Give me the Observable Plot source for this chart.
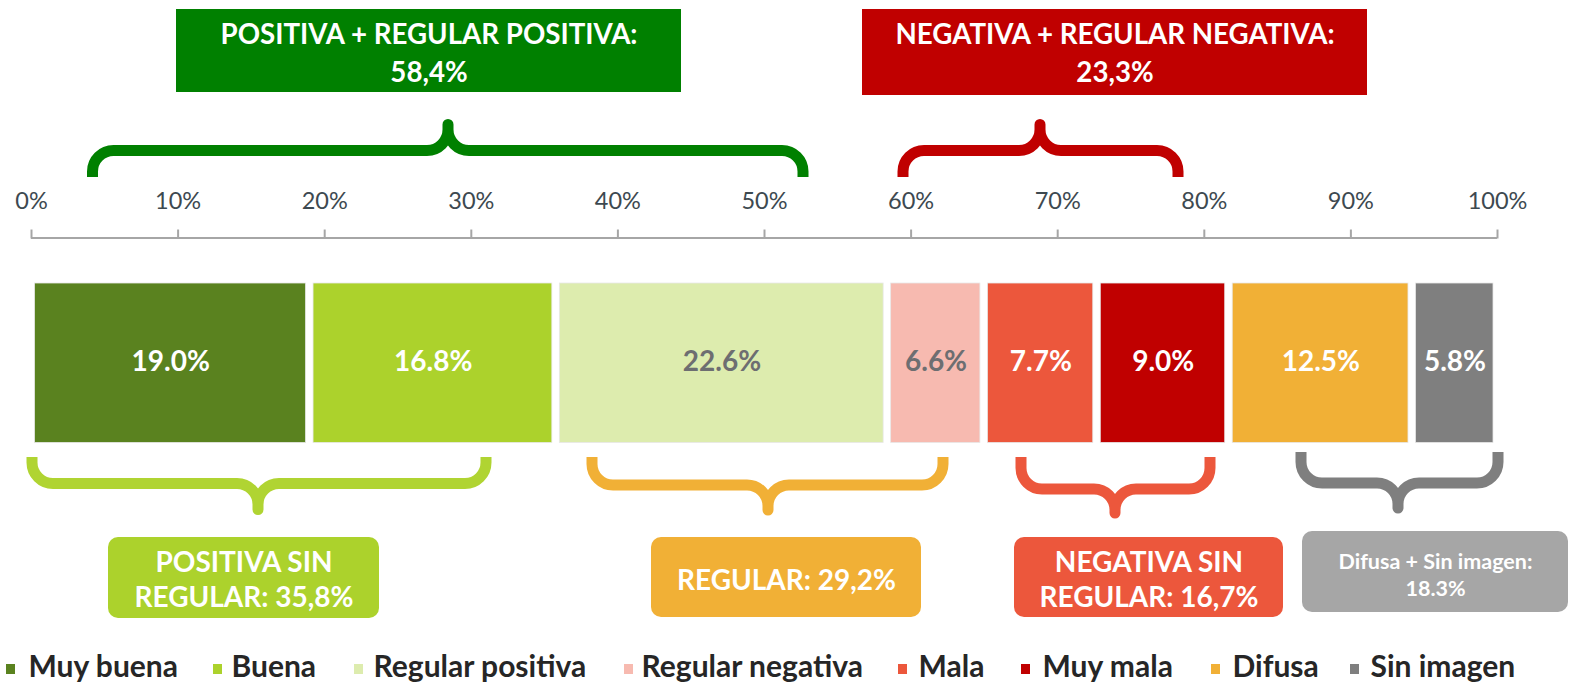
<!DOCTYPE html>
<html>
<head>
<meta charset="utf-8">
<script src="https://cdn.jsdelivr.net/npm/d3@7"></script>
<script src="https://cdn.jsdelivr.net/npm/@observablehq/plot@0.6"></script>
<style>
  html, body { margin: 0; padding: 0; background: #ffffff; }
  #chart svg { display: block; }
</style>
</head>
<body>
<div id="chart"></div>
<script>
// ---------- DATA ----------
const categories = ["Muy buena", "Buena", "Regular positiva", "Regular negativa", "Mala", "Muy mala", "Difusa", "Sin imagen"];
const values = [19.0, 16.8, 22.6, 6.6, 7.7, 9.0, 12.5, 5.8];
const colors = ["#5a821f", "#acd22c", "#ddecae", "#f7bab0", "#ec573c", "#c00000", "#f1b036", "#7f7f7f"];
const valueLabelColors = ["#ffffff", "#ffffff", "#6d6e71", "#6d6e71", "#ffffff", "#ffffff", "#ffffff", "#ffffff"];
const tickValues = [0, 10, 20, 30, 40, 50, 60, 70, 80, 90, 100];
const tickLabels = ["0%", "10%", "20%", "30%", "40%", "50%", "60%", "70%", "80%", "90%", "100%"];

const topGroupLabels = ["POSITIVA + REGULAR POSITIVA:\n58,4%", "NEGATIVA + REGULAR NEGATIVA:\n23,3%"];
const topGroupColors = ["#008000", "#c00000"];
const bottomGroupLabels = ["POSITIVA SIN\nREGULAR: 35,8%", "REGULAR: 29,2%", "NEGATIVA SIN\nREGULAR: 16,7%", "Difusa + Sin imagen:\n18.3%"];
const bottomGroupColors = ["#acd22c", "#f1b036", "#ec573c", "#a6a6a6"];
const bottomBraceColors = ["#b0d432", "#f1b036", "#ec573c", "#7f7f7f"];

// ---------- LAYOUT (pixels) ----------
const W = 1569, H = 682;
const AX0 = 31, AX1 = 1497;               // 0% and 100% positions
const px = p => (p - AX0) / (AX1 - AX0) * 100; // pixel -> percent domain
const axisY = 237.5, tickLen = 8, tickLabelY = 201;
const barTop = 283, barBottom = 442.5, barLabelY = 362;

const topBoxLayout = [
  {x1: 176, x2: 681, y1: 9, y2: 92, ty: 50, brace: {a: 92.5, b: 803, m: 448, yEnd: 177, yH: 150.5, yTip: 124.5}},
  {x1: 862, x2: 1367, y1: 9, y2: 95, ty: 50, brace: {a: 903, b: 1178, m: 1040, yEnd: 177, yH: 150.5, yTip: 124.5}}
];
const bottomBoxLayout = [
  {x1: 108, x2: 379, y1: 537, y2: 618, ty: 578, fs: 28, brace: {a: 32, b: 486, m: 258, yEnd: 457, yH: 483.5, yTip: 509.5}},
  {x1: 651, x2: 921, y1: 537, y2: 617, ty: 578, fs: 28, brace: {a: 592, b: 943, m: 768, yEnd: 457, yH: 485, yTip: 510}},
  {x1: 1014, x2: 1283, y1: 537, y2: 617, ty: 578, fs: 28, brace: {a: 1021, b: 1210, m: 1115, yEnd: 457, yH: 489, yTip: 513}},
  {x1: 1302, x2: 1568, y1: 531, y2: 612, ty: 573.5, fs: 21.5, brace: {a: 1301, b: 1498, m: 1398, yEnd: 452, yH: 483, yTip: 508}}
];
const legendLayout = [
  {sq: 6, tx: 28}, {sq: 213, tx: 231}, {sq: 354, tx: 373}, {sq: 624, tx: 641},
  {sq: 898, tx: 918}, {sq: 1021, tx: 1042}, {sq: 1211, tx: 1232}, {sq: 1350, tx: 1370}
];
const legendSqY1 = 664, legendSqY2 = 674, legendTextY = 667;

// ---------- TABLES ----------
const rows = categories.map((c, i) => ({
  category: c, value: values[i], color: colors[i],
  labelColor: valueLabelColors[i], label: values[i].toFixed(1) + "%"
}));
const ticks = tickValues.map((v, i) => ({v, label: tickLabels[i]}));
const topGroups = topGroupLabels.map((t, i) => ({text: t, color: topGroupColors[i], ...topBoxLayout[i]}));
const bottomGroups = bottomGroupLabels.map((t, i) => ({text: t, color: bottomGroupColors[i], braceColor: bottomBraceColors[i], ...bottomBoxLayout[i]}));
const legendItems = categories.map((c, i) => ({category: c, color: colors[i], ...legendLayout[i]}));

const braces = [
  ...topGroups.map(g => ({...g.brace, color: g.color})),
  ...bottomGroups.map(g => ({...g.brace, color: g.braceColor}))
];

// Curly brace render mark (uses the plot's scales)
function braceMark(list, strokeWidth = 11) {
  return (index, scales) => {
    const {x, y} = scales;
    const g = d3.create("svg:g");
    const k = 0.552;
    for (const b of list) {
      const xa = x(px(b.a)), xb = x(px(b.b)), xm = x(px(b.m));
      const ye = y(b.yEnd), yh = y(b.yH), yt = y(b.yTip);
      const s = Math.sign(ye - yh);
      const r = Math.min(21, Math.abs(ye - yh));
      const c = Math.min(21, Math.abs(yh - yt));
      const d = [
        `M${xa},${ye}`,
        `L${xa},${yh + s * r}`,
        `C${xa},${yh + s * r - s * k * r} ${xa + r - k * r},${yh} ${xa + r},${yh}`,
        `L${xm - c},${yh}`,
        `C${xm - c + k * c},${yh} ${xm},${yh - s * c + s * k * c} ${xm},${yh - s * c}`,
        `L${xm},${yt}`,
        `L${xm},${yh - s * c}`,
        `C${xm},${yh - s * c + s * k * c} ${xm + c - k * c},${yh} ${xm + c},${yh}`,
        `L${xb - r},${yh}`,
        `C${xb - r + k * r},${yh} ${xb},${yh + s * r - s * k * r} ${xb},${yh + s * r}`,
        `L${xb},${ye}`
      ].join(" ");
      g.append("path")
        .attr("d", d)
        .attr("fill", "none")
        .attr("stroke", b.color)
        .attr("stroke-width", strokeWidth)
        .attr("stroke-linejoin", "round")
        .attr("stroke-linecap", "butt");
    }
    return g.node();
  };
}

const chart = Plot.plot({
  width: W,
  height: H,
  marginTop: 0, marginBottom: 0, marginLeft: 0, marginRight: 0,
  x: {domain: [0, 100], range: [AX0, AX1], axis: null},
  y: {domain: [0, H], range: [0, H], axis: null},
  color: {type: "identity"},
  style: {fontFamily: "Lato, 'Open Sans', sans-serif", background: "#ffffff", overflow: "visible"},
  marks: [
    // top group boxes
    Plot.rect(topGroups, {x1: d => px(d.x1), x2: d => px(d.x2), y1: "y1", y2: "y2", fill: "color"}),
    Plot.text(topGroups, {x: d => px((d.x1 + d.x2) / 2), y: "ty", text: "text", fill: "#ffffff",
      fontSize: 27.7, fontWeight: "bold", lineHeight: 1.37}),
    // axis
    Plot.ruleY([axisY], {x1: 0, x2: 100, stroke: "#a6a6a6", strokeWidth: 2}),
    Plot.ruleX(ticks, {x: "v", y1: axisY - tickLen, y2: axisY + 1, stroke: "#a6a6a6", strokeWidth: 2}),
    Plot.text(ticks, {x: "v", y: tickLabelY, text: "label", fill: "#3d4950", fontSize: 23.5}),
    // stacked bar
    Plot.rectX(rows, Plot.stackX({x: "value", y1: barTop, y2: barBottom, fill: "color",
      insetLeft: 3.5, insetRight: 4, stroke: "#e8e8e8", strokeWidth: 0.8})),
    Plot.text(rows, Plot.stackX({x: "value", y: barLabelY, text: "label", fill: "labelColor",
      fontSize: 28, fontWeight: "bold"})),
    // braces
    braceMark(braces),
    // bottom group boxes
    Plot.rect(bottomGroups, {x1: d => px(d.x1), x2: d => px(d.x2), y1: "y1", y2: "y2", fill: "color", rx: 10}),
    Plot.text(bottomGroups, {x: d => px((d.x1 + d.x2) / 2), y: "ty", text: "text", fill: "#ffffff",
      fontSize: d => d.fs, fontWeight: "bold", lineHeight: 1.25}),
    // legend
    Plot.rect(legendItems, {x1: d => px(d.sq), x2: d => px(d.sq + 9), y1: legendSqY1, y2: legendSqY2, fill: "color"}),
    Plot.text(legendItems, {x: d => px(d.tx), y: legendTextY, text: "category", textAnchor: "start",
      fill: "#262626", fontSize: 30, fontWeight: "bold"})
  ]
});

document.getElementById("chart").appendChild(chart);
</script>
</body>
</html>
